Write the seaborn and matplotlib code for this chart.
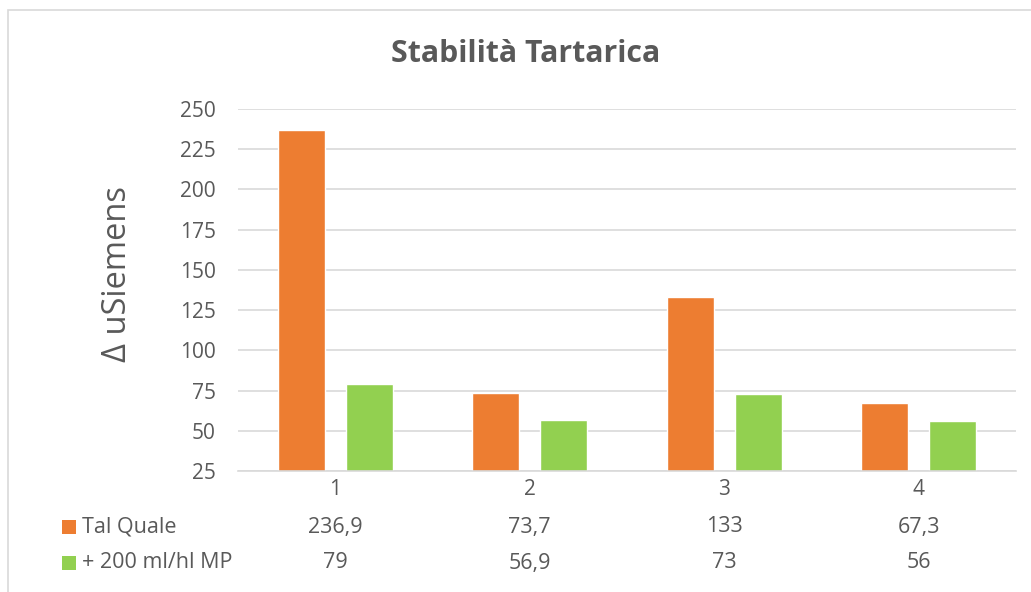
import matplotlib
matplotlib.use("Agg")
import matplotlib.pyplot as plt
import seaborn as sns
import pandas as pd
from matplotlib.patches import Rectangle
from matplotlib.transforms import blended_transform_factory

categories = ["1", "2", "3", "4"]
series_names = ["Tal Quale", "+ 200 ml/hl MP"]
tal_quale = [236.9, 73.7, 133, 67.3]
mp_200 = [79, 56.9, 73, 56]
yticks = [25, 50, 75, 100, 125, 150, 175, 200, 225, 250]
colors = ["#ED7D31", "#92D050"]

df = pd.DataFrame({
    "cat": categories * 2,
    "serie": [series_names[0]] * 4 + [series_names[1]] * 4,
    "val": tal_quale + mp_200,
})

sns.set_theme(style="white")
plt.rcParams["font.family"] = ["Open Sans", "DejaVu Sans"]
TXT = "#595959"
W, H = 1031, 592

fig = plt.figure(figsize=(10.31, 5.92), dpi=100)
ax = fig.add_axes([238/W, 1-471/H, (1016-238)/W, (471-109)/H])

sns.barplot(data=df, x="cat", y="val", hue="serie", palette=colors,
            width=0.7, gap=0.31, ax=ax, legend=False, saturation=1)

ax.set_ylim(25, 250)
ax.set_yticks(yticks)
ax.set_yticklabels([str(t) for t in yticks], color=TXT, fontsize=15)
ax.set_xlim(-0.5, 3.5)
ax.yaxis.grid(True, color="#D9D9D9", linewidth=1.2)
ax.set_axisbelow(True)
for s in ["top", "right", "left"]:
    ax.spines[s].set_visible(False)
ax.spines["bottom"].set_color("#D9D9D9")
ax.spines["bottom"].set_linewidth(1.2)
ax.tick_params(axis="y", length=0, pad=16)
ax.tick_params(axis="x", length=0, pad=6, labelsize=15, labelcolor=TXT)
ax.set_xlabel("")
ax.set_ylabel("")

fig.text(117/W, 1-274/H, "Δ uSiemens", rotation=90, ha="center", va="center",
         fontsize=23.5, color=TXT)

fig.text(526/W, 1-54/H, "Stabilità Tartarica", ha="center", va="center",
         fontsize=21.8, fontweight="bold", color=TXT)

# data table
trans = blended_transform_factory(ax.transData, fig.transFigure)
rows_y = [1-527/H, 1-563/H]
for vals, yy, name, c in zip([tal_quale, mp_200], rows_y, series_names, colors):
    for i, v in enumerate(vals):
        ax.text(i, yy, f"{v:g}".replace(".", ","), transform=trans,
                ha="center", va="center", fontsize=15.5, color=TXT)
    fig.patches.append(Rectangle((62/W, yy - 7/H), 14/W, 14/H,
                                 transform=fig.transFigure, facecolor=c,
                                 edgecolor="none"))
    fig.text(82/W, yy, name, ha="left", va="center", fontsize=15.5, color=TXT)

# chart border
fig.patches.append(Rectangle((8/W, -0.1), 1.2, 1-10/H+0.1,
                             transform=fig.transFigure, facecolor="none",
                             edgecolor="#D9D9D9", linewidth=1.2))

fig.savefig("out.png", dpi=100)
